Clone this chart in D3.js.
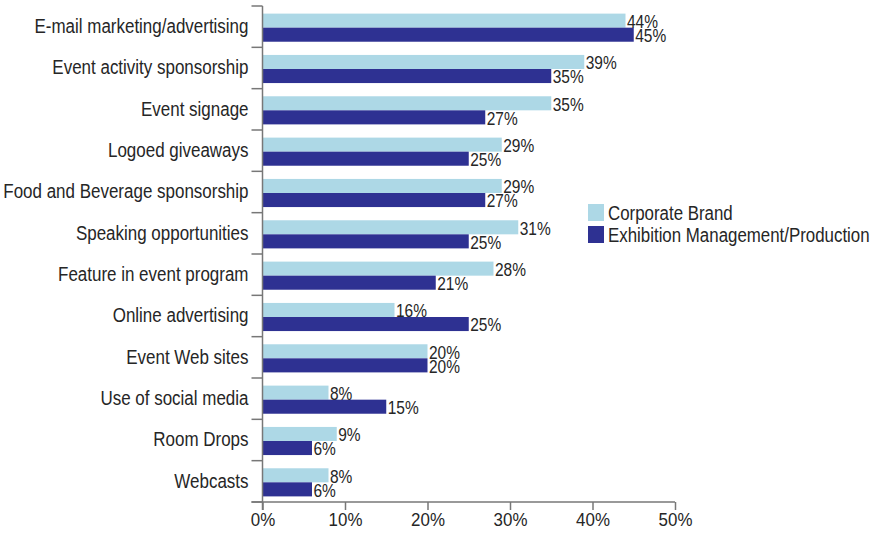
<!DOCTYPE html>
<html>
<head>
<meta charset="utf-8">
<script src="https://cdn.jsdelivr.net/npm/d3@7/dist/d3.min.js"></script>
<style>
  html, body { margin: 0; padding: 0; background: #fff; }
  svg { display: block; font-family: "Liberation Sans", Arial, sans-serif; }
</style>
</head>
<body>
<svg id="chart" width="874" height="537"></svg>
<script>
// Promotional channels used, by respondent group (percent)
const categories = [
  "E-mail marketing/advertising",
  "Event activity sponsorship",
  "Event signage",
  "Logoed giveaways",
  "Food and Beverage sponsorship",
  "Speaking opportunities",
  "Feature in event program",
  "Online advertising",
  "Event Web sites",
  "Use of social media",
  "Room Drops",
  "Webcasts"
];
const seriesNames = ["Corporate Brand", "Exhibition Management/Production"];
const corporateBrand = [44, 39, 35, 29, 29, 31, 28, 16, 20, 8, 9, 8];
const exhibitionMgmt = [45, 35, 27, 25, 27, 25, 21, 25, 20, 15, 6, 6];
const xTicks = [0, 10, 20, 30, 40, 50];

const colors = ["#add8e6", "#2e3192"];
const axisColor = "#777";
const textColor = "#262626";

// narrow the glyphs horizontally for a condensed look
function condense(sel, k) {
  sel.each(function () {
    const w = this.getComputedTextLength();
    d3.select(this).attr("textLength", w * k).attr("lengthAdjust", "spacingAndGlyphs");
  });
}

const svg = d3.select("#chart");

const x = d3.scaleLinear().domain([0, 50]).range([262.5, 675]);
const y = d3.scaleBand().domain(categories).range([6, 502]).padding(0);
const sub = d3.scaleBand().domain(seriesNames).range([0, y.bandwidth()])
  .paddingInner(0).paddingOuter(0.47);

const rows = categories.map((c, i) => ({
  cat: c,
  vals: [corporateBrand[i], exhibitionMgmt[i]]
}));

// bars
const g = svg.append("g");
const rowG = g.selectAll("g.row").data(rows).join("g")
  .attr("class", "row")
  .attr("transform", d => `translate(0,${y(d.cat) + 1})`);

rowG.selectAll("rect").data(d => d.vals.map((v, k) => ({ v, k })))
  .join("rect")
  .attr("x", x(0))
  .attr("y", d => sub(seriesNames[d.k]))
  .attr("width", d => x(d.v) - x(0))
  .attr("height", sub.bandwidth())
  .attr("fill", d => colors[d.k]);

// value labels
rowG.selectAll("text.val").data(d => d.vals.map((v, k) => ({ v, k })))
  .join("text")
  .attr("class", "val")
  .attr("x", d => x(d.v) + 1.5)
  .attr("y", d => sub(seriesNames[d.k]) + sub.bandwidth() / 2 + 1)
  .attr("dy", "0.36em")
  .attr("fill", textColor)
  .attr("font-size", 17.5)
  .text(d => d.v + "%")
  .call(condense, 0.885);

// y axis: category labels, boundary ticks and spine
const yAxis = svg.append("g").attr("transform", `translate(${x(0)},0)`)
  .call(d3.axisLeft(y).tickSize(0).tickPadding(14));
yAxis.select(".domain").remove();
yAxis.selectAll("text").attr("font-size", 19.5).attr("fill", textColor)
  .attr("font-family", null)
  .call(condense, 0.87);

const bounds = categories.map(c => y(c)).concat([y.range()[1]]);
svg.append("g").selectAll("line").data(bounds).join("line")
  .attr("x1", x(0) - 11).attr("x2", x(0))
  .attr("y1", d => d).attr("y2", d => d)
  .attr("stroke", axisColor).attr("stroke-width", 1.5);
svg.append("line")
  .attr("x1", x(0)).attr("x2", x(0))
  .attr("y1", y.range()[0]).attr("y2", y.range()[1] + 8)
  .attr("stroke", axisColor).attr("stroke-width", 1.5);

// x axis
const xAxis = svg.append("g").attr("transform", `translate(0,${y.range()[1]})`)
  .call(d3.axisBottom(x).tickValues(xTicks).tickFormat(d => d + "%")
    .tickSize(8).tickSizeOuter(0).tickPadding(3));
xAxis.select(".domain").remove();
xAxis.selectAll("line").attr("stroke", axisColor).attr("stroke-width", 1.5);
xAxis.selectAll("text").attr("font-size", 19).attr("fill", textColor)
  .attr("font-family", null)
  .call(condense, 0.89);
svg.append("line")
  .attr("x1", x(0) - 11).attr("x2", x(50))
  .attr("y1", y.range()[1]).attr("y2", y.range()[1])
  .attr("stroke", axisColor).attr("stroke-width", 1.5);

// legend
const legend = svg.append("g").attr("transform", "translate(588,204)");
const li = legend.selectAll("g").data(seriesNames).join("g")
  .attr("transform", (d, i) => `translate(0,${i * 22})`);
li.append("rect").attr("width", 16).attr("height", 17)
  .attr("fill", (d, i) => colors[i]);
li.append("text").attr("x", 20).attr("y", 8.5).attr("dy", "0.36em")
  .attr("font-size", 19.5).attr("fill", textColor)
  .text(d => d)
  .call(condense, 0.865);
</script>
</body>
</html>
